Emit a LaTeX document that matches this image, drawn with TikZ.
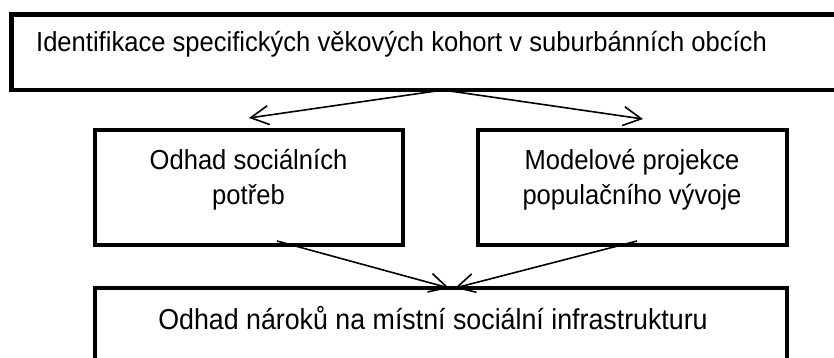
\documentclass[tikz,border=0pt]{standalone}
\usepackage{fontspec}
\setmainfont[FakeStretch=0.93]{Liberation Sans}
\usetikzlibrary{arrows.meta}
\begin{document}
\begin{tikzpicture}[x=1pt,y=-1pt,
  box/.style={draw=black, line width=4.5pt, rectangle, inner sep=0pt},
  lbl/.style={font=\fontsize{27.5}{35}\selectfont, inner sep=0pt, align=center, anchor=base},
  arr/.style={line width=1.6pt, -{Straight Barb[length=18pt,width=19pt]}}]
\useasboundingbox (0,0) rectangle (834,358);
% boxes
\node[box, minimum width=838.5pt, minimum height=75.5pt] (top) at (430.75,52.25) {};
\node[box, minimum width=308pt, minimum height=115pt] (left) at (249,187.5) {};
\node[box, minimum width=309pt, minimum height=115pt] (right) at (632.5,187.5) {};
\node[box, minimum width=692pt, minimum height=87pt] (bottom) at (441,331.5) {};
% texts
\node[lbl] (t1) at (401.5,52) {Identifikace specifických věkových kohort v suburbánních obcích};
\node[lbl] (t2) at (248.5,204) {Odhad sociálních\\potřeb};
\node[lbl] (t3) at (632,204) {Modelové projekce\\populačního vývoje};
\node[lbl, font=\fontsize{28.8}{35}\selectfont] (t4) at (433,329) {Odhad nároků na místní sociální infrastrukturu};
% connector ends
\coordinate (s0) at (443,90);
\coordinate (e1) at (249,118);
\coordinate (e2) at (643,119);
\coordinate (s1) at (277,241);
\coordinate (s2) at (637,241);
\coordinate (e3) at (449,288);
\coordinate (e4) at (455,288);
\draw[arr] (s0) -- (e1);
\draw[arr] (s0) -- (e2);
\draw[arr] (s1) -- (e3);
\draw[arr] (s2) -- (e4);
\end{tikzpicture}
\end{document}
